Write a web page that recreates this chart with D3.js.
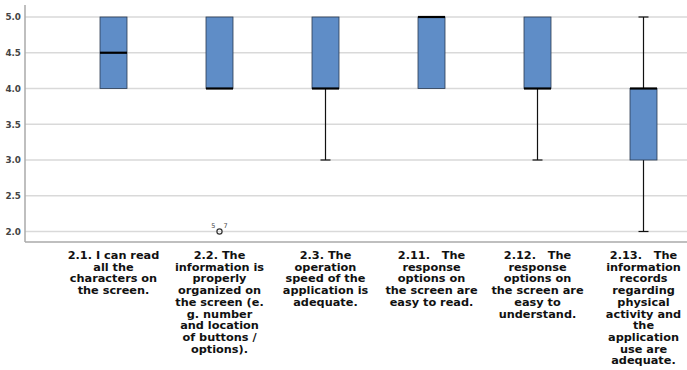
<!DOCTYPE html>
<html><head><meta charset="utf-8">
<script src="https://cdn.jsdelivr.net/npm/d3@7"></script>
<style>body{margin:0;background:#fff}svg{display:block}</style>
</head><body>
<svg id="c" width="687" height="370"></svg>
<script>
const categories = ["2.1","2.2","2.3","2.11","2.12","2.13"];
const labelLines = [
  ["2.1. I can read","all the","characters on","the screen."],
  ["2.2. The","information is","properly","organized on","the screen (e.","g. number","and location","of buttons /","options)."],
  ["2.3. The","operation","speed of the","application is","adequate."],
  ["2.11.   The","response","options on","the screen are","easy to read."],
  ["2.12.   The","response","options on","the screen are","easy to","understand."],
  ["2.13.   The","information","records","regarding","physical","activity and","the","application","use are","adequate."]
];
const mins    = [4, 4, 3, 4, 3, 2];
const q1s     = [4, 4, 4, 4, 4, 3];
const medians = [4.5, 4, 4, 5, 4, 4];
const q3s     = [5, 5, 5, 5, 5, 4];
const maxs    = [5, 5, 5, 5, 5, 5];
const outliers = [{cat:"2.2", value:2, ids:["5","7"]}];
const yTicks = [2.0, 2.5, 3.0, 3.5, 4.0, 4.5, 5.0];

(function(){
const svg = d3.select("#c");
const pL = 25, pR = 687, pT = 5, pB = 242;
const y = d3.scaleLinear().domain([2.0, 5.0]).range([231.5, 17]);
const x = d3.scalePoint().domain(categories).range([113.5, 643.5]);
const boxW = 27, capW = 10;

svg.append("g").selectAll("line").data(yTicks).join("line")
  .attr("x1", pL).attr("x2", pR)
  .attr("y1", d => y(d)).attr("y2", d => y(d))
  .attr("stroke", "#d9d9d9").attr("stroke-width", 1.5);

const yAxis = svg.append("g").attr("transform", `translate(${pL},0)`)
  .call(d3.axisLeft(y).tickValues(yTicks).tickFormat(d3.format(".1f")).tickSize(0).tickPadding(4));
yAxis.select(".domain").remove();
yAxis.selectAll("text").attr("font-family", "DejaVu Sans, sans-serif").attr("font-size", 8.8)
  .attr("font-weight", "bold").attr("fill", "#444");

svg.append("line").attr("x1", pL).attr("x2", pL).attr("y1", pT).attr("y2", pB)
  .attr("stroke", "#aaa").attr("stroke-width", 1.5);
svg.append("line").attr("x1", pL).attr("x2", pR).attr("y1", pB).attr("y2", pB)
  .attr("stroke", "#aaa").attr("stroke-width", 1.5);

const data = categories.map((c, i) => ({c, min: mins[i], q1: q1s[i], med: medians[i], q3: q3s[i], max: maxs[i]}));
const g = svg.append("g").selectAll("g").data(data).join("g");

g.each(function(d){
  const s = d3.select(this), cx = x(d.c);
  if (d.max > d.q3) {
    s.append("line").attr("x1", cx).attr("x2", cx).attr("y1", y(d.q3)).attr("y2", y(d.max)).attr("stroke", "#111").attr("stroke-width", 1.2);
    s.append("line").attr("x1", cx - capW/2).attr("x2", cx + capW/2).attr("y1", y(d.max)).attr("y2", y(d.max)).attr("stroke", "#111").attr("stroke-width", 1.2);
  }
  if (d.min < d.q1) {
    s.append("line").attr("x1", cx).attr("x2", cx).attr("y1", y(d.q1)).attr("y2", y(d.min)).attr("stroke", "#111").attr("stroke-width", 1.2);
    s.append("line").attr("x1", cx - capW/2).attr("x2", cx + capW/2).attr("y1", y(d.min)).attr("y2", y(d.min)).attr("stroke", "#111").attr("stroke-width", 1.2);
  }
  s.append("rect").attr("x", cx - boxW/2).attr("width", boxW)
    .attr("y", y(d.q3)).attr("height", y(d.q1) - y(d.q3))
    .attr("fill", "#5f8dc7").attr("stroke", "#2a3a50").attr("stroke-width", 0.8);
  s.append("line").attr("x1", cx - boxW/2).attr("x2", cx + boxW/2)
    .attr("y1", y(d.med)).attr("y2", y(d.med)).attr("stroke", "#000").attr("stroke-width", 2.2);
});

outliers.forEach(o => {
  const cx = x(o.cat), cy = y(o.value);
  svg.append("circle").attr("cx", cx).attr("cy", cy).attr("r", 2.6)
    .attr("fill", "none").attr("stroke", "#333").attr("stroke-width", 1.2);
  svg.append("text").attr("x", cx - 4).attr("y", cy - 4).attr("text-anchor", "end")
    .attr("font-family", "DejaVu Sans, sans-serif").attr("font-size", 6.5).attr("fill", "#444").text(o.ids[0]);
  svg.append("text").attr("x", cx + 4).attr("y", cy - 4).attr("text-anchor", "start")
    .attr("font-family", "DejaVu Sans, sans-serif").attr("font-size", 6.5).attr("fill", "#444").text(o.ids[1]);
});

categories.forEach((c, i) => {
  const t = svg.append("text").attr("text-anchor", "middle")
    .attr("font-family", "DejaVu Sans, sans-serif").attr("font-size", 11.3).attr("font-weight", "bold")
    .attr("fill", "#111");
  labelLines[i].forEach((ln, k) => {
    t.append("tspan").attr("x", x(c)).attr("y", 259 + k * 11.7).attr("xml:space", "preserve").text(ln);
  });
});
})();
</script>
</body></html>
